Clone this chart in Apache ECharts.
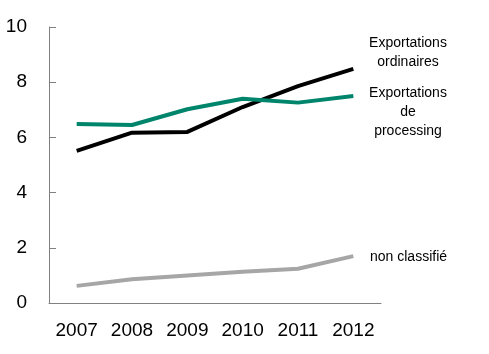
<!DOCTYPE html>
<html>
<head>
<meta charset="utf-8">
<script src="https://cdn.jsdelivr.net/npm/echarts@6/dist/echarts.min.js"></script>
<style>
  html, body { margin: 0; padding: 0; background: #fff; }
  #chart { width: 489px; height: 354px; }
</style>
</head>
<body>
<div id="chart"></div>
<script>
const years = ['2007', '2008', '2009', '2010', '2011', '2012'];
const ordinaires = [5.51, 6.17, 6.2, 7.1, 7.86, 8.48];
const processing = [6.49, 6.45, 7.02, 7.4, 7.26, 7.5];
const nonClassifie = [0.62, 0.86, 1.0, 1.13, 1.24, 1.7];

const chart = echarts.init(document.getElementById('chart'));
const font = 'Liberation Sans, Arial, sans-serif';

const option = {
  animation: false,
  grid: { left: 49, right: 108, top: 27, bottom: 51 },
  xAxis: {
    type: 'category',
    data: years,
    boundaryGap: true,
    axisLine: { lineStyle: { color: '#808080', width: 1 } },
    axisTick: { inside: true, length: 6, lineStyle: { color: '#808080' } },
    axisLabel: { color: '#000', fontFamily: font, fontSize: 19, margin: 18 }
  },
  yAxis: {
    type: 'value',
    min: 0,
    max: 10,
    interval: 2,
    splitLine: { show: false },
    axisLine: { show: true, lineStyle: { color: '#808080', width: 1 } },
    axisTick: { show: true, inside: true, length: 7, lineStyle: { color: '#808080' } },
    axisLabel: { color: '#000', fontFamily: font, fontSize: 19, margin: 22 }
  },
  series: [
    {
      name: 'Exportations ordinaires',
      type: 'line',
      data: ordinaires,
      symbol: 'none',
      lineStyle: { color: '#000000', width: 4 }
    },
    {
      name: 'Exportations de processing',
      type: 'line',
      data: processing,
      symbol: 'none',
      lineStyle: { color: '#00856d', width: 4 }
    },
    {
      name: 'non classifié',
      type: 'line',
      data: nonClassifie,
      symbol: 'none',
      lineStyle: { color: '#a6a6a6', width: 4 }
    }
  ],
  graphic: [
    {
      type: 'text', x: 408, y: 34,
      style: { text: 'Exportations\nordinaires', fill: '#000', font: '14px ' + font, align: 'center', lineHeight: 19 }
    },
    {
      type: 'text', x: 408, y: 84,
      style: { text: 'Exportations\nde\nprocessing', fill: '#000', font: '14px ' + font, align: 'center', lineHeight: 19 }
    },
    {
      type: 'text', x: 370, y: 250,
      style: { text: 'non classifié', fill: '#000', font: '14px ' + font }
    }
  ]
};
chart.setOption(option);
</script>
</body>
</html>
